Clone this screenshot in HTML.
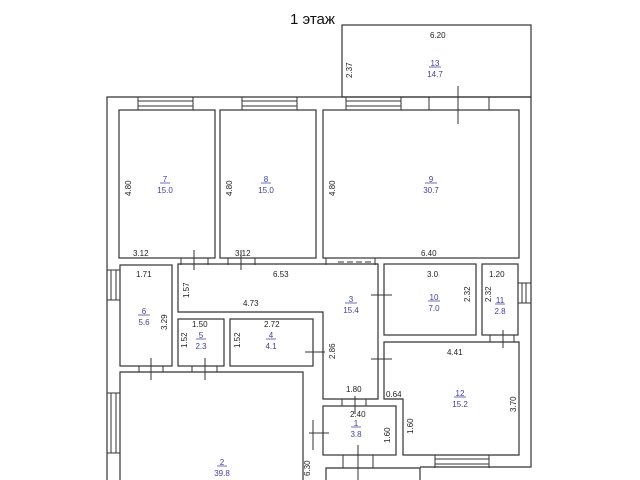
<!DOCTYPE html>
<html><head><meta charset="utf-8"><style>
html,body{margin:0;padding:0;background:#fff;width:640px;height:480px;overflow:hidden}
svg text{font-family:"Liberation Sans",sans-serif}
.d{font-size:8px;fill:#222}
.b{font-size:8px;fill:#4040a0}
</style></head><body>
<svg width="640" height="480" viewBox="0 0 640 480" xmlns="http://www.w3.org/2000/svg">
<g fill="none" stroke="#333" stroke-width="1.2">
<path d="M107 480 V97 H531 V467 H420"/>
<rect x="342" y="25" width="189" height="72"/>
<rect x="119" y="110" width="96" height="148"/>
<rect x="220" y="110" width="96" height="148"/>
<rect x="323" y="110" width="196" height="148"/>
<rect x="120" y="265" width="52" height="101"/>
<path d="M178 264 H378 V399 H323 V312 H178 Z"/>
<rect x="178" y="319" width="46" height="47"/>
<rect x="230" y="319" width="83" height="47"/>
<rect x="384" y="264" width="92" height="71"/>
<rect x="482" y="264" width="36" height="71"/>
<path d="M384 342 H519 V455 H403 V399 H384 Z"/>
<rect x="323" y="406" width="73" height="49"/>
<path d="M120 480 V372 H303 V480"/>
<path d="M326 480 V468 H420 V480"/>
</g>
<g fill="none" stroke="#333" stroke-width="1">
<path d="M138 97 V110 M193 97 V110 M138 101 H193 M138 106 H193"/>
<path d="M242 97 V110 M297 97 V110 M242 101 H297 M242 106 H297"/>
<path d="M346 97 V110 M401 97 V110 M346 101 H401 M346 106 H401"/>
<path d="M429 97 V110 M489 97 V110"/>
<path d="M107 270 H120 M107 300 H120 M111 270 V300 M116 270 V300"/>
<path d="M107 393 H120 M107 453 H120 M111 393 V453 M116 393 V453"/>
<path d="M518 283 H531 M518 303 H531 M522 283 V303 M526 283 V303"/>
<path d="M435 455 V468 M489 455 V468 M435 459 H489 M435 464 H489"/>
<path d="M458 86 V124"/>
<path d="M181 258 V265 M208 258 V265 M194 250 V270"/>
<path d="M228 258 V265 M255 258 V265 M241 250 V270"/>
<path d="M326 258 V265 M375 258 V265"/>
<path d="M338 262 H374" stroke-dasharray="6 3"/>
<path d="M378 282 V302 M384 282 V302 M371 295 H392"/>
<path d="M378 344 V364 M384 344 V364 M371 359 H392"/>
<path d="M490 335 V342 M514 335 V342 M503 330 V348"/>
<path d="M313 337 V362 M323 337 V362 M305 352 H325"/>
<path d="M139 366 V372 M163 366 V372 M151 358 V380"/>
<path d="M192 366 V372 M217 366 V372 M205 358 V380"/>
<path d="M342 399 V406 M366 399 V406 M355 396 V414"/>
<path d="M303 420 V450 M313 420 V450 M309 433 H329"/>
<path d="M343 455 V468 M373 455 V468 M358 445 V480"/>
</g>
<g stroke="#4040a0" stroke-width="0.7">
<path d="M160 183 H170 M261 183 H271 M425 183 H437 M429 67 H441"/>
<path d="M138 315 H150 M196 339 H206 M266 339 H276 M345 303 H357"/>
<path d="M428 301 H440 M495 304 H505 M454 397 H466 M351 427 H361 M217 466 H227"/>
</g>
<text x="290" y="24" font-size="15" fill="#111" font-family="Liberation Sans">1 этаж</text>
<g class="d">
<text x="430" y="38">6.20</text>
<text x="133" y="256">3.12</text>
<text x="235" y="256">3.12</text>
<text x="421" y="256">6.40</text>
<text x="136" y="277">1.71</text>
<text x="273" y="277">6.53</text>
<text x="243" y="306">4.73</text>
<text x="192" y="327">1.50</text>
<text x="264" y="327">2.72</text>
<text x="427" y="277">3.0</text>
<text x="489" y="277">1.20</text>
<text x="447" y="355">4.41</text>
<text x="346" y="392">1.80</text>
<text x="386" y="397">0.64</text>
<text x="350" y="417">2.40</text>
<g transform="rotate(-90)">
<text x="-78" y="352">2.37</text>
<text x="-196" y="131">4.80</text>
<text x="-196" y="232">4.80</text>
<text x="-196" y="335">4.80</text>
<text x="-298" y="189">1.57</text>
<text x="-330" y="167">3.29</text>
<text x="-348" y="187">1.52</text>
<text x="-348" y="240">1.52</text>
<text x="-359" y="335">2.86</text>
<text x="-302" y="470">2.32</text>
<text x="-302" y="491">2.32</text>
<text x="-412" y="516">3.70</text>
<text x="-443" y="390">1.60</text>
<text x="-434" y="413">1.60</text>
<text x="-476" y="310">6.30</text>
</g>
</g>
<g class="b" text-anchor="middle">
<text x="435" y="66">13</text><text x="435" y="77">14.7</text>
<text x="165" y="182">7</text><text x="165" y="193">15.0</text>
<text x="266" y="182">8</text><text x="266" y="193">15.0</text>
<text x="431" y="182">9</text><text x="431" y="193">30.7</text>
<text x="144" y="314">6</text><text x="144" y="325">5.6</text>
<text x="201" y="338">5</text><text x="201" y="349">2.3</text>
<text x="271" y="338">4</text><text x="271" y="349">4.1</text>
<text x="351" y="302">3</text><text x="351" y="313">15.4</text>
<text x="434" y="300">10</text><text x="434" y="311">7.0</text>
<text x="500" y="303">11</text><text x="500" y="314">2.8</text>
<text x="460" y="396">12</text><text x="460" y="407">15.2</text>
<text x="356" y="426">1</text><text x="356" y="437">3.8</text>
<text x="222" y="465">2</text><text x="222" y="476">39.8</text>
</g>
</svg>
</body></html>
